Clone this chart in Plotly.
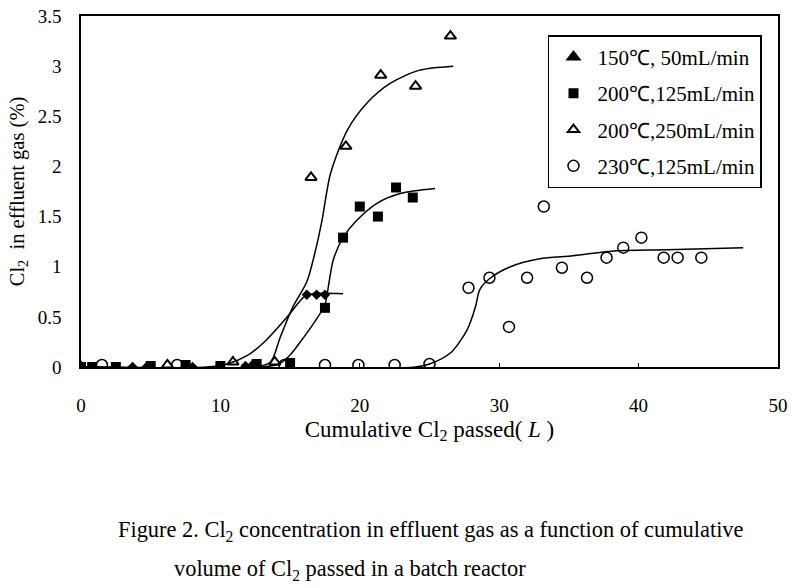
import plotly.graph_objects as go

# measured points
x_150 = [3.7, 4.7, 8.0, 11.8, 12.3, 16.2, 16.9, 17.5]
y_150 = [0.0, 0.0, 0.0, 0.01, 0.02, 0.72, 0.72, 0.72]

x_200_125 = [0.0, 0.8, 2.5, 5.0, 7.5, 10.0, 12.6, 15.0, 17.5, 18.8, 20.0, 21.3, 22.6, 23.8]
y_200_125 = [0.0, 0.0, 0.0, 0.01, 0.02, 0.01, 0.03, 0.04, 0.59, 1.29, 1.60, 1.50, 1.79, 1.69]

x_200_250 = [0.0, 6.2, 10.9, 13.9, 16.5, 19.0, 21.5, 24.0, 26.5]
y_200_250 = [0.0, 0.02, 0.05, 0.05, 1.89, 2.20, 2.91, 2.80, 3.30]

x_230_125 = [1.5, 6.9, 14.6, 17.5, 19.9, 22.5, 25.0, 27.8, 29.3, 30.7, 32.0, 33.2,
             34.5, 36.3, 37.7, 38.9, 40.2, 41.8, 42.8, 44.5]
y_230_125 = [0.02, 0.02, 0.02, 0.02, 0.02, 0.02, 0.03, 0.79, 0.89, 0.40, 0.89, 1.60,
             0.99, 0.89, 1.09, 1.19, 1.29, 1.09, 1.09, 1.09]

# fitted curves
cx_150 = [0.0, 9.0, 10.5, 12.0, 13.3, 14.8, 16.0, 16.6, 18.8]
cy_150 = [0.0, 0.0, 0.03, 0.12, 0.27, 0.50, 0.70, 0.73, 0.73]

cx_200_125 = [0.0, 13.0, 14.2, 15.0, 16.0, 17.0, 17.5, 17.8, 18.1, 18.8, 19.7, 21.2, 22.9, 25.4]
cy_200_125 = [0.0, 0.0, 0.03, 0.12, 0.30, 0.50, 0.62, 0.85, 1.07, 1.29, 1.45, 1.63, 1.73, 1.78]

cx_200_250 = [0.0, 12.5, 13.6, 14.3, 15.2, 16.2, 16.8, 17.3, 17.9, 19.1, 20.5, 22.2, 24.3, 26.7]
cy_200_250 = [0.0, 0.0, 0.05, 0.30, 0.60, 0.85, 1.15, 1.47, 1.93, 2.36, 2.63, 2.83, 2.96, 3.00]

cx_230_125 = [0.0, 24.0, 25.0, 26.5, 27.7, 28.3, 28.6, 29.3, 30.8, 32.9, 35.3, 38.4, 42.0, 47.5]
cy_230_125 = [0.0, 0.0, 0.03, 0.14, 0.37, 0.60, 0.77, 0.88, 1.00, 1.08, 1.11, 1.16, 1.17, 1.19]

labels = ["150℃, 50mL/min", "200℃,125mL/min", "200℃,250mL/min", "230℃,125mL/min"]

SERIF = "Liberation Serif, Times New Roman, serif"

fig = go.Figure()

for cx, cy in [(cx_150, cy_150), (cx_200_125, cy_200_125),
               (cx_200_250, cy_200_250), (cx_230_125, cy_230_125)]:
    fig.add_trace(go.Scatter(x=cx, y=cy, mode="lines", showlegend=False, hoverinfo="skip",
                             line=dict(color="black", width=1.5, shape="spline", smoothing=0.8)))

# 150 series is drawn with diamonds, legend uses a filled triangle
fig.add_trace(go.Scatter(x=x_150, y=y_150, mode="markers", showlegend=False,
                         marker=dict(symbol="diamond", size=8, color="black")))
fig.add_trace(go.Scatter(x=[None], y=[None], mode="markers", name=labels[0], legendgroup="a",
                         marker=dict(symbol="triangle-up", size=14, color="black")))
fig.add_trace(go.Scatter(x=x_200_125, y=y_200_125, mode="markers", name=labels[1], legendgroup="b",
                         marker=dict(symbol="square", size=10, color="black")))
fig.add_trace(go.Scatter(x=x_200_250, y=y_200_250, mode="markers", name=labels[2], legendgroup="c",
                         marker=dict(symbol="triangle-up-open", size=10, color="black",
                                     line=dict(width=2))))
fig.add_trace(go.Scatter(x=x_230_125, y=y_230_125, mode="markers", name=labels[3], legendgroup="d",
                         marker=dict(symbol="circle-open", size=11, color="black",
                                     line=dict(width=1.5))))

fig.update_layout(
    width=792, height=588,
    margin=dict(l=81, r=14, t=16, b=221),
    paper_bgcolor="white", plot_bgcolor="white",
    font=dict(family=SERIF, size=19, color="black"),
    legend=dict(x=0.67, y=0.945, xanchor="left", yanchor="top",
                bordercolor="black", borderwidth=1.5, bgcolor="white",
                traceorder="grouped", tracegroupgap=6, itemwidth=38,
                font=dict(family=SERIF, size=21)),
)

fig.update_xaxes(range=[0, 50], dtick=10, showgrid=False, zeroline=False, automargin=False,
                 showline=True, linecolor="black", linewidth=1.5, mirror=True,
                 ticks="inside", ticklen=4, tickcolor="black", ticklabelstandoff=20,
                 ticklabeloverflow="allow",
                 title=dict(text="Cumulative Cl<sub>2</sub> passed( <i>L</i> )", standoff=6))
fig.update_yaxes(range=[0, 3.5], dtick=0.5, showgrid=False, zeroline=False, automargin=False,
                 showline=True, linecolor="black", linewidth=1.5, mirror=True,
                 ticks="", ticklabelstandoff=14, ticklabeloverflow="allow",
                 title=dict(text="Cl<sub>2</sub>  in effluent gas (%)", standoff=8,
                            font=dict(size=20.5)))

fig.add_annotation(text="Figure 2. Cl<sub>2</sub> concentration in effluent gas as a function of cumulative",
                   xref="paper", yref="paper", x=0.05, y=-0.467, xanchor="left", yanchor="middle",
                   showarrow=False, font=dict(family=SERIF, size=22.4))
fig.add_annotation(text="volume of Cl<sub>2</sub> passed in a batch reactor",
                   xref="paper", yref="paper", x=0.1306, y=-0.578, xanchor="left", yanchor="middle",
                   showarrow=False, font=dict(family=SERIF, size=22.4))

# drop the default body margin so the figure sits at the window's corner
fig.write_html("out.html", config={"displayModeBar": False},
               post_script="document.body.style.margin = '0';")
